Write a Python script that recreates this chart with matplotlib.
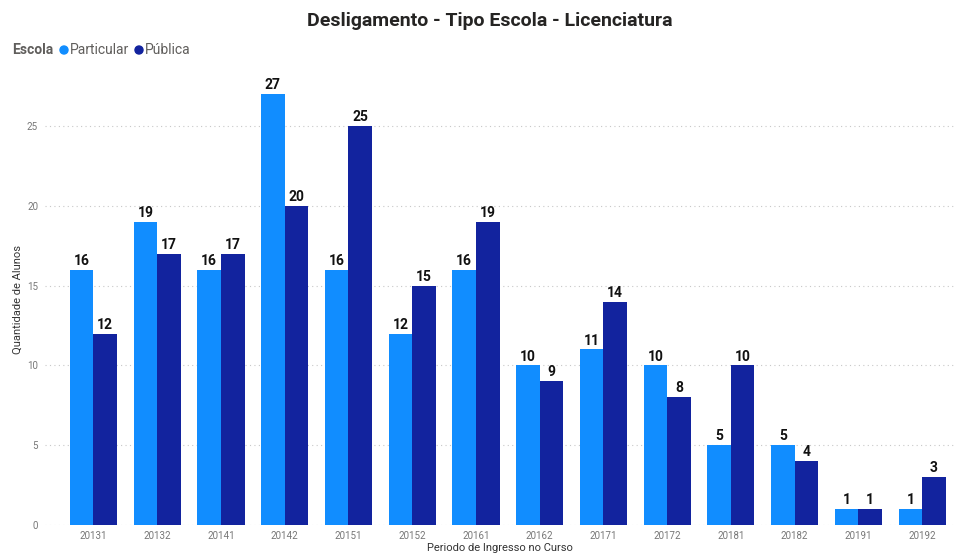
import matplotlib
matplotlib.use("Agg")
import matplotlib.pyplot as plt
import numpy as np

periodos = ["20131", "20132", "20141", "20142", "20151", "20152", "20161",
            "20162", "20171", "20172", "20181", "20182", "20191", "20192"]
particular = [16, 19, 16, 27, 16, 12, 16, 10, 11, 10, 5, 5, 1, 1]
publica = [12, 17, 17, 20, 25, 15, 19, 9, 14, 8, 10, 4, 1, 3]

cor_particular = "#118DFF"
cor_publica = "#12239E"

plt.rcParams["font.family"] = ["Roboto", "DejaVu Sans"]

fig = plt.figure(figsize=(9.63, 5.53), dpi=100)
ax = fig.add_axes([45 / 963, 28 / 553, 909 / 963, 450 / 553])

x = np.arange(len(periodos))
w = 0.37
b1 = ax.bar(x - w / 2, particular, w, color=cor_particular, zorder=3)
b2 = ax.bar(x + w / 2, publica, w, color=cor_publica, zorder=3)

for bars, vals in ((b1, particular), (b2, publica)):
    for rect, v in zip(bars, vals):
        ax.text(rect.get_x() + rect.get_width() / 2, v + 0.12, str(v),
                ha="center", va="bottom", fontsize=10, fontweight="bold",
                color="#111111")

# extra room on the left so the dotted grid starts just after the tick labels
ax.set_xlim(-0.76, len(periodos) - 0.5)
ax.set_ylim(0, 28.2)
ax.set_yticks([0, 5, 10, 15, 20, 25])
ax.set_xticks(x)
ax.set_xticklabels(periodos)
ax.tick_params(axis="both", length=0, labelsize=7, colors="#777777", pad=4)
ax.tick_params(axis="y", pad=5)
ax.grid(axis="y", linestyle=(0, (1, 3)), color="#C8C8C8", linewidth=0.8, zorder=0)
for s in ax.spines.values():
    s.set_visible(False)

ax.set_xlabel("Periodo de Ingresso no Curso", fontsize=8, color="#333333", labelpad=2)
ax.set_ylabel("Quantidade de Alunos", fontsize=8, color="#333333")
ax.yaxis.set_label_coords(-0.024, 0.5)

fig.text(0.509, 0.962, "Desligamento - Tipo Escola - Licenciatura",
         ha="center", va="center", fontsize=14, fontweight="bold", color="#252423")

# legend row
ly = 1 - 50 / 553
fig.text(12 / 963, ly, "Escola", ha="left", va="center",
         fontsize=10, fontweight="bold", color="#605E5C")
fig.patches.append(matplotlib.patches.Ellipse((64 / 963, ly), 8 / 963, 8 / 553,
                                              transform=fig.transFigure, color=cor_particular))
fig.text(70 / 963, ly, "Particular", ha="left", va="center",
         fontsize=10, color="#605E5C")
fig.patches.append(matplotlib.patches.Ellipse((139 / 963, ly), 8 / 963, 8 / 553,
                                              transform=fig.transFigure, color=cor_publica))
fig.text(145 / 963, ly, "Pública", ha="left", va="center",
         fontsize=10, color="#605E5C")

fig.savefig("out.png", dpi=100)
